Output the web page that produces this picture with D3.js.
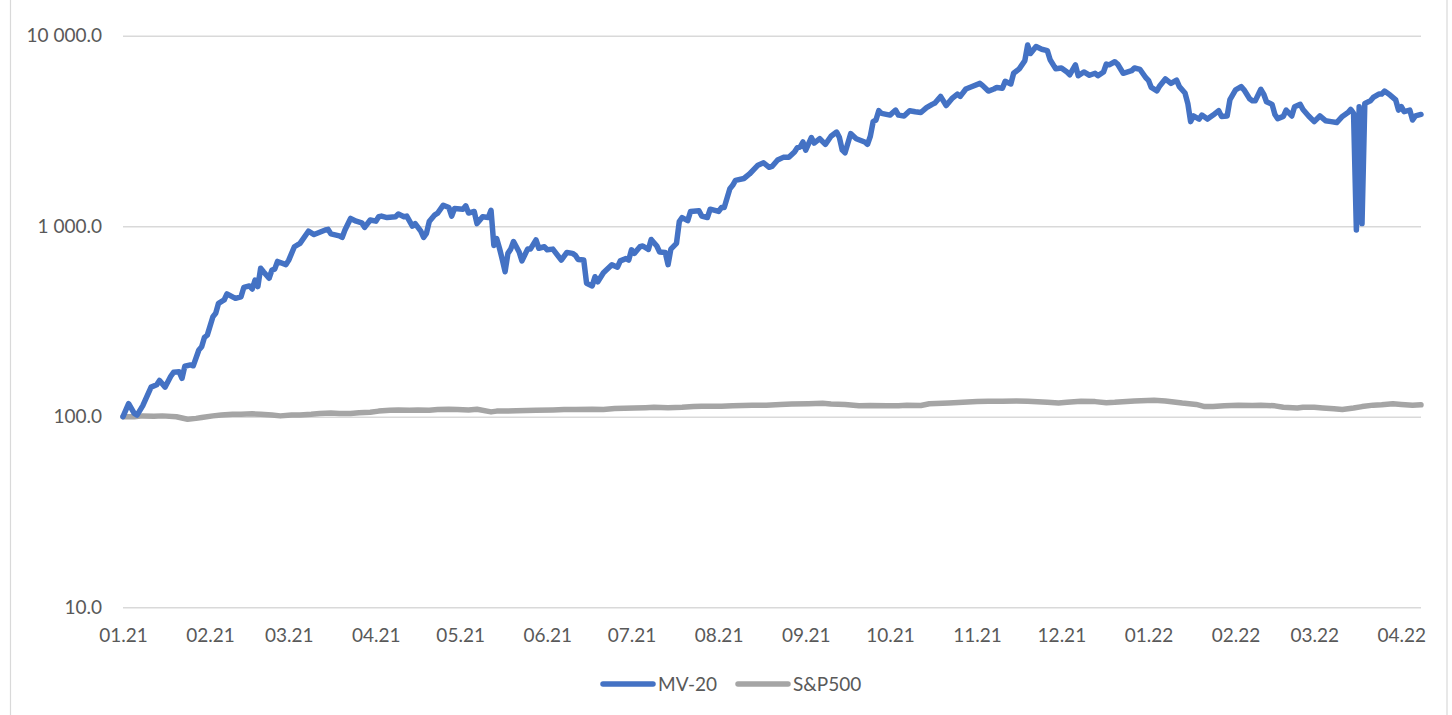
<!DOCTYPE html>
<html>
<head>
<meta charset="utf-8">
<script src="https://cdn.jsdelivr.net/npm/d3@7"></script>
<style>
  html, body { margin: 0; padding: 0; background: #fff; }
  svg { display: block; font-family: Lato, "Open Sans", sans-serif; }
</style>
</head>
<body>
<svg id="chart" width="1452" height="715"></svg>
<script>
// MV-20 index (log scale)
var mvDates = [
  "2021-01-01","2021-01-03","2021-01-05","2021-01-06","2021-01-08","2021-01-09","2021-01-11","2021-01-13","2021-01-14","2021-01-16",
  "2021-01-18","2021-01-19","2021-01-21","2021-01-22","2021-01-23","2021-01-25","2021-01-26","2021-01-28","2021-01-29","2021-01-30",
  "2021-01-31","2021-02-02","2021-02-03","2021-02-04","2021-02-06","2021-02-07","2021-02-10","2021-02-12","2021-02-13","2021-02-15",
  "2021-02-16","2021-02-17","2021-02-18","2021-02-19","2021-02-20","2021-02-22","2021-02-23","2021-02-24","2021-02-25","2021-02-28",
  "2021-03-01","2021-03-03","2021-03-05","2021-03-08","2021-03-10","2021-03-14","2021-03-15","2021-03-16","2021-03-19","2021-03-20",
  "2021-03-21","2021-03-23","2021-03-25","2021-03-27","2021-03-28","2021-03-30","2021-04-01","2021-04-02","2021-04-03","2021-04-05",
  "2021-04-08","2021-04-09","2021-04-11","2021-04-12","2021-04-14","2021-04-15","2021-04-17","2021-04-18","2021-04-19","2021-04-20",
  "2021-04-22","2021-04-23","2021-04-25","2021-04-27","2021-04-28","2021-04-29","2021-05-02","2021-05-03","2021-05-04","2021-05-06",
  "2021-05-07","2021-05-09","2021-05-11","2021-05-12","2021-05-13","2021-05-14","2021-05-15","2021-05-16","2021-05-17","2021-05-18",
  "2021-05-19","2021-05-20","2021-05-22","2021-05-23","2021-05-25","2021-05-26","2021-05-28","2021-05-29","2021-05-31","2021-06-01",
  "2021-06-03","2021-06-06","2021-06-08","2021-06-10","2021-06-11","2021-06-12","2021-06-14","2021-06-15","2021-06-17","2021-06-18",
  "2021-06-19","2021-06-21","2021-06-24","2021-06-26","2021-06-27","2021-06-29","2021-06-30","2021-07-01","2021-07-02","2021-07-04",
  "2021-07-05","2021-07-07","2021-07-08","2021-07-10","2021-07-11","2021-07-13","2021-07-14","2021-07-15","2021-07-17","2021-07-18",
  "2021-07-19","2021-07-21","2021-07-22","2021-07-25","2021-07-26","2021-07-28","2021-07-29","2021-08-01","2021-08-02","2021-08-03",
  "2021-08-05","2021-08-06","2021-08-07","2021-08-10","2021-08-12","2021-08-15","2021-08-17","2021-08-19","2021-08-20","2021-08-22",
  "2021-08-24","2021-08-26","2021-08-28","2021-08-29","2021-08-30","2021-08-31","2021-09-01","2021-09-03","2021-09-04","2021-09-06",
  "2021-09-08","2021-09-10","2021-09-12","2021-09-13","2021-09-14","2021-09-15","2021-09-17","2021-09-19","2021-09-22","2021-09-23",
  "2021-09-24","2021-09-25","2021-09-26","2021-09-27","2021-09-28","2021-10-01","2021-10-03","2021-10-04","2021-10-06","2021-10-08",
  "2021-10-10","2021-10-12","2021-10-14","2021-10-16","2021-10-17","2021-10-19","2021-10-21","2021-10-23","2021-10-25","2021-10-26",
  "2021-10-28","2021-10-30","2021-11-02","2021-11-03","2021-11-05","2021-11-07","2021-11-08","2021-11-10","2021-11-11","2021-11-13",
  "2021-11-14","2021-11-16","2021-11-18","2021-11-19","2021-11-20","2021-11-22","2021-11-24","2021-11-26","2021-11-27","2021-11-29",
  "2021-12-01","2021-12-03","2021-12-04","2021-12-06","2021-12-07","2021-12-09","2021-12-11","2021-12-13","2021-12-14","2021-12-16",
  "2021-12-17","2021-12-18","2021-12-20","2021-12-21","2021-12-23","2021-12-26","2021-12-27","2021-12-29","2021-12-31","2022-01-01",
  "2022-01-02","2022-01-04","2022-01-05","2022-01-07","2022-01-09","2022-01-11","2022-01-12","2022-01-14","2022-01-15","2022-01-16",
  "2022-01-17","2022-01-19","2022-01-20","2022-01-22","2022-01-24","2022-01-26","2022-01-27","2022-01-29","2022-01-30","2022-02-01",
  "2022-02-03","2022-02-04","2022-02-06","2022-02-07","2022-02-08","2022-02-10","2022-02-11","2022-02-12","2022-02-14","2022-02-15",
  "2022-02-16","2022-02-18","2022-02-19","2022-02-21","2022-02-22","2022-02-24","2022-02-25","2022-02-27","2022-03-01","2022-03-03",
  "2022-03-05","2022-03-07","2022-03-09","2022-03-11","2022-03-13","2022-03-14","2022-03-15","2022-03-16","2022-03-17","2022-03-18",
  "2022-03-19","2022-03-21","2022-03-22","2022-03-24","2022-03-25","2022-03-26","2022-03-28","2022-03-30","2022-03-31","2022-04-01",
  "2022-04-02","2022-04-04","2022-04-05","2022-04-06","2022-04-08"
];
var mvValues = [
  100,117,104,102,114,123,143,147,155,143,
  163,171,172,159,184,187,185,224,233,261,
  268,335,349,394,410,441,418,426,477,486,
  468,521,482,602,577,533,588,595,653,628,
  664,780,812,941,904,955,963,911,889,873,
  955,1098,1063,1042,985,1078,1063,1121,1130,1110,
  1121,1158,1121,1130,1000,1032,941,873,917,1058,
  1148,1172,1289,1253,1130,1238,1228,1279,1172,1195,
  1032,1121,1110,1211,793,862,766,669,577,720,
  758,831,732,658,758,758,847,766,780,752,
  758,664,728,720,704,669,664,502,486,543,
  511,570,628,609,658,676,664,752,720,780,
  787,755,852,787,732,728,628,758,812,1058,
  1110,1070,1195,1205,1130,1110,1228,1195,1253,1253,
  1573,1640,1740,1780,1880,2090,2152,2037,2058,2225,
  2298,2298,2450,2584,2605,2767,2510,2920,2730,2880,
  2690,2965,3120,2920,2510,2430,3060,2880,2767,2690,
  2965,3540,3610,4040,3910,3830,4070,3830,3790,4040,
  3990,3950,4190,4360,4430,4800,4300,4670,4940,4800,
  5250,5400,5620,5470,5120,5250,5350,5300,5760,5580,
  6350,6700,7400,8930,8060,8770,8490,8350,7480,6700,
  6770,6450,6240,7030,6160,6450,6200,6350,6160,6450,
  7100,7030,7300,7100,6350,6550,6770,6650,6030,5830,
  5350,5140,5450,5930,5620,5850,5400,5000,4410,3540,
  3790,3650,3830,3650,3830,4040,3770,3790,4620,5200,
  5400,5200,4670,4550,4550,5230,4940,4500,4360,3860,
  3670,3770,4070,3790,4240,4360,4100,3790,3540,3790,
  3580,3540,3500,3770,3950,4100,3910,955,4240,1032,
  4410,4550,4740,4940,4940,5120,4880,4600,4070,4240,
  3990,4070,3610,3790,3860
];

// S&P500, rebased to 100
var spDates = [
  "2021-01-01","2021-01-05","2021-01-08","2021-01-12","2021-01-15","2021-01-20","2021-01-24","2021-01-27","2021-01-29","2021-02-02",
  "2021-02-05","2021-02-09","2021-02-12","2021-02-16","2021-02-19","2021-02-23","2021-02-26","2021-03-02","2021-03-05","2021-03-09",
  "2021-03-12","2021-03-16","2021-03-19","2021-03-23","2021-03-26","2021-03-30","2021-04-02","2021-04-06","2021-04-09","2021-04-13",
  "2021-04-16","2021-04-20","2021-04-23","2021-04-27","2021-04-30","2021-05-04","2021-05-07","2021-05-12","2021-05-14","2021-05-18",
  "2021-05-21","2021-05-28","2021-06-03","2021-06-07","2021-06-11","2021-06-17","2021-06-21","2021-06-25","2021-07-02","2021-07-06",
  "2021-07-09","2021-07-14","2021-07-19","2021-07-23","2021-07-26","2021-08-02","2021-08-06","2021-08-13","2021-08-18","2021-08-23",
  "2021-08-27","2021-09-02","2021-09-07","2021-09-10","2021-09-15","2021-09-20","2021-09-24","2021-09-30","2021-10-04","2021-10-07",
  "2021-10-12","2021-10-15","2021-10-22","2021-10-27","2021-11-01","2021-11-05","2021-11-10","2021-11-15","2021-11-19","2021-11-26",
  "2021-11-30","2021-12-03","2021-12-08","2021-12-13","2021-12-17","2021-12-20","2021-12-27","2022-01-03","2022-01-07","2022-01-13",
  "2022-01-18","2022-01-21","2022-01-24","2022-01-28","2022-02-02","2022-02-07","2022-02-10","2022-02-15","2022-02-18","2022-02-23",
  "2022-02-25","2022-03-01","2022-03-04","2022-03-08","2022-03-11","2022-03-15","2022-03-18","2022-03-22","2022-03-25","2022-03-29",
  "2022-04-01","2022-04-05","2022-04-08"
];
var spValues = [
  100,100,101,100.5,101,100,97,98,99,101,
  102,103,103,103.5,103,102,101,102,102,103,
  104,104.5,104,104,105,105.5,107,108,108.5,108,
  108.5,108,109,109.5,109,108.5,109.5,106,107,107,
  107.5,108,108.5,109,109,109.5,109,110.5,111,111.5,
  112,111.5,112,113,113.5,113.5,114,115,115,116,
  116.5,117,117.5,116.5,116,114,114.5,114,114,115,
  114.5,117,118,119,120,120.5,120.5,121,120.5,119,
  118,119,120.5,120,118.5,119,121,122,121,118,
  116,113,113,114,115,114.5,115,114,112,111,
  112,112,111,110,109,111,113,115,115.5,117,
  116,115,115.5
];

var yTicks = [10, 100, 1000, 10000];
var seriesNames = ["MV-20", "S&P500"];
var seriesColors = ["#4472C4", "#A5A5A5"];

var parse = d3.timeParse("%Y-%m-%d");
var mv = mvDates.map((d, i) => ({date: parse(d), value: mvValues[i]}));
var sp = spDates.map((d, i) => ({date: parse(d), value: spValues[i]}));

var plotLeft = 123, plotRight = 1421, plotTop = 35.7, plotBottom = 607.2;

var x = d3.scaleTime()
  .domain([parse("2021-01-01"), parse("2022-04-08")])
  .range([plotLeft, plotRight]);

var y = d3.scaleLog()
  .domain([10, 10000])
  .range([plotBottom, plotTop]);

var locale = d3.formatLocale({decimal: ".", thousands: " ", grouping: [3], currency: ["", ""]});
var fmtY = locale.format(",.1f");

var svg = d3.select("#chart");

// chart area border
svg.append("rect")
  .attr("x", 10.5).attr("y", -2)
  .attr("width", 1436.5).attr("height", 720)
  .attr("fill", "none")
  .attr("stroke", "#D9D9D9")
  .attr("stroke-width", 1.2);

// horizontal gridlines + y labels
var yAxis = d3.axisLeft(y)
  .tickValues(yTicks)
  .tickSize(-(plotRight - plotLeft))
  .tickPadding(21)
  .tickFormat(fmtY);

svg.append("g")
  .attr("transform", `translate(${plotLeft},0)`)
  .call(yAxis)
  .call(g => g.select(".domain").remove())
  .call(g => g.selectAll(".tick line").attr("stroke", "#D9D9D9").attr("stroke-width", 1.4))
  .call(g => g.selectAll(".tick text")
    .attr("fill", "#595959")
    .style("font-size", "19px")
    .style("font-family", "Lato, sans-serif"));

// x labels, first of each month
var xAxis = d3.axisBottom(x)
  .ticks(d3.timeMonth.every(1))
  .tickSize(0)
  .tickPadding(21)
  .tickFormat(d3.timeFormat("%m.%y"));

svg.append("g")
  .attr("transform", `translate(0,${plotBottom})`)
  .call(xAxis)
  .call(g => g.select(".domain").remove())
  .call(g => g.selectAll(".tick text")
    .attr("fill", "#595959")
    .style("font-size", "19px")
    .style("font-family", "Lato, sans-serif"));

var line = d3.line()
  .x(d => x(d.date))
  .y(d => y(d.value));

svg.append("path")
  .datum(sp)
  .attr("d", line)
  .attr("fill", "none")
  .attr("stroke", seriesColors[1])
  .attr("stroke-width", 5.5)
  .attr("stroke-linejoin", "round")
  .attr("stroke-linecap", "round");

svg.append("path")
  .datum(mv)
  .attr("d", line)
  .attr("fill", "none")
  .attr("stroke", seriesColors[0])
  .attr("stroke-width", 5.5)
  .attr("stroke-linejoin", "round")
  .attr("stroke-linecap", "round");

// legend
var legendX = [603, 738];
var legend = svg.append("g")
  .selectAll("g")
  .data(seriesNames)
  .join("g")
    .attr("transform", (d, i) => `translate(${legendX[i]},684)`);

legend.append("line")
  .attr("x1", 0).attr("x2", 50)
  .attr("stroke", (d, i) => seriesColors[i])
  .attr("stroke-width", 5.5)
  .attr("stroke-linecap", "round");

legend.append("text")
  .attr("x", 55)
  .attr("dy", "0.35em")
  .attr("fill", "#595959")
  .style("font-size", "19px")
  .text(d => d);
</script>
</body>
</html>
